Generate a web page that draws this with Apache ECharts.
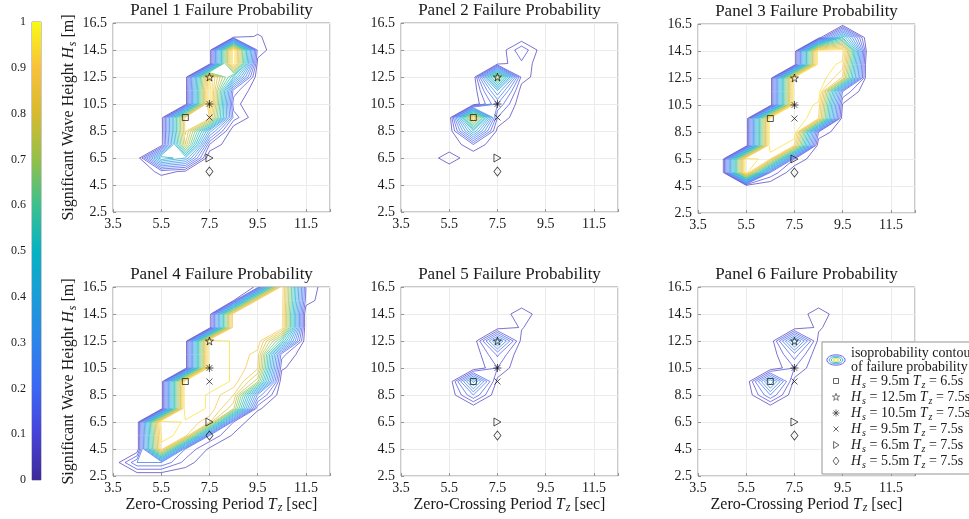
<!DOCTYPE html>
<html>
<head>
<meta charset="utf-8">
<script src="https://cdn.jsdelivr.net/npm/echarts@6/dist/echarts.min.js"></script>
<style>
html, body { margin: 0; padding: 0; background: #fff; }
#chart { width: 969px; height: 519px; }
</style>
</head>
<body>
<div id="chart"></div>
<script>
// grid of the failure probability tables
const tz = [3.5, 4.5, 5.5, 6.5, 7.5, 8.5, 9.5, 10.5, 11.5, 12.5];
const hs = [16.5, 15.5, 14.5, 13.5, 12.5, 11.5, 10.5, 9.5, 8.5, 7.5, 6.5, 5.5, 4.5, 3.5, 2.5];
const levels = [0.05, 0.10, 0.15, 0.20, 0.25, 0.30, 0.35, 0.40, 0.45, 0.50,
                0.55, 0.60, 0.65, 0.70, 0.75, 0.80, 0.85, 0.90, 0.95];
const xTicks = [3.5, 5.5, 7.5, 9.5, 11.5];
const yTicks = [2.5, 4.5, 6.5, 8.5, 10.5, 12.5, 14.5, 16.5];
const cbTicks = [0, 0.1, 0.2, 0.3, 0.4, 0.5, 0.6, 0.7, 0.8, 0.9, 1];

// sea states marked in every panel
const markerTz = [6.5, 7.5, 7.5, 7.5, 7.5, 7.5];
const markerHs = [9.5, 12.5, 10.5, 9.5, 6.5, 5.5];

// rows: Hs 16.5 (top) .. 2.5 (bottom), cols: Tz 3.5 .. 12.5
const p1 = [
  [0, 0, 0, 0, 0, 0, 0, 0, 0, 0],
  [0, 0, 0, 0, 0, 0, 0.06, 0, 0, 0],
  [0, 0, 0, 0, 0, 1, 0.08, 0, 0, 0],
  [0, 0, 0, 0, 0, 1, 0.03, 0, 0, 0],
  [0, 0, 0, 0, 0.95, 0.5, 0, 0, 0, 0],
  [0, 0, 0, 0, 1, 0.13, 0, 0, 0, 0],
  [0, 0, 0, 0, 1, 0.07, 0, 0, 0, 0],
  [0, 0, 0, 0.87, 0.9, 0.13, 0, 0, 0, 0],
  [0, 0, 0, 0.87, 0.33, 0, 0, 0, 0, 0],
  [0, 0, 0, 0.8, 0.1, 0, 0, 0, 0, 0],
  [0, 0, 0.5, 0.4, 0, 0, 0, 0, 0, 0],
  [0, 0, 0.07, 0.04, 0, 0, 0, 0, 0, 0],
  [0, 0, 0, 0, 0, 0, 0, 0, 0, 0],
  [0, 0, 0, 0, 0, 0, 0, 0, 0, 0],
  [0, 0, 0, 0, 0, 0, 0, 0, 0, 0]
];
const p2 = [
  [0, 0, 0, 0, 0, 0, 0, 0, 0, 0],
  [0, 0, 0, 0, 0, 0, 0, 0, 0, 0],
  [0, 0, 0, 0, 0, 0.14, 0, 0, 0, 0],
  [0, 0, 0, 0, 0.02, 0.09, 0, 0, 0, 0],
  [0, 0, 0, 0, 0.75, 0.08, 0, 0, 0, 0],
  [0, 0, 0, 0, 0.35, 0.02, 0, 0, 0, 0],
  [0, 0, 0, 0, 0.2, 0, 0, 0, 0, 0],
  [0, 0, 0, 0.9, 0.1, 0, 0, 0, 0, 0],
  [0, 0, 0, 0.45, 0.03, 0, 0, 0, 0, 0],
  [0, 0, 0, 0.1, 0, 0, 0, 0, 0, 0],
  [0, 0, 0.09, 0, 0, 0, 0, 0, 0, 0],
  [0, 0, 0, 0, 0, 0, 0, 0, 0, 0],
  [0, 0, 0, 0, 0, 0, 0, 0, 0, 0],
  [0, 0, 0, 0, 0, 0, 0, 0, 0, 0],
  [0, 0, 0, 0, 0, 0, 0, 0, 0, 0]
];
const p3 = [
  [0, 0, 0, 0, 0, 0, 0, 0, 0, 0],
  [0, 0, 0, 0, 0, 0, 0.5, 0, 0, 0],
  [0, 0, 0, 0, 0, 1, 1, 0.03, 0, 0],
  [0, 0, 0, 0, 0, 1, 0.93, 0, 0, 0],
  [0, 0, 0, 0, 1, 1, 0.84, 0, 0, 0],
  [0, 0, 0, 0, 1, 1, 0.15, 0, 0, 0],
  [0, 0, 0, 0, 1, 0.935, 0.04, 0, 0, 0],
  [0, 0, 0, 1, 1, 0.9, 0, 0, 0, 0],
  [0, 0, 0, 1, 1, 0.1, 0, 0, 0, 0],
  [0, 0, 0, 1, 0.9, 0, 0, 0, 0, 0],
  [0, 0, 1, 0.9, 0.1, 0, 0, 0, 0, 0],
  [0, 0, 1, 0.15, 0, 0, 0, 0, 0, 0],
  [0, 0, 0, 0, 0, 0, 0, 0, 0, 0],
  [0, 0, 0, 0, 0, 0, 0, 0, 0, 0],
  [0, 0, 0, 0, 0, 0, 0, 0, 0, 0]
];
const p4 = [
  [0, 0, 0, 0, 0, 0, 0.06, 0.945, 0.1, 0],
  [0, 0, 0, 0, 0, 0.045, 0.94, 0.94, 0.08, 0],
  [0, 0, 0, 0, 0, 0.945, 0.94, 0.94, 0, 0],
  [0, 0, 0, 0, 0, 0.945, 0.94, 0.94, 0, 0],
  [0, 0, 0, 0, 1, 0.94, 0.94, 0.565, 0, 0],
  [0, 0, 0, 0, 1, 0.94, 0.88, 0.12, 0, 0],
  [0, 0, 0, 0, 1, 0.94, 0.86, 0.06, 0, 0],
  [0, 0, 0, 1, 1, 0.94, 0.715, 0, 0, 0],
  [0, 0, 0, 1, 0.94, 0.85, 0.24, 0, 0, 0],
  [0, 0, 0, 1, 0.94, 0.76, 0.06, 0, 0, 0],
  [0, 0, 1, 0.94, 0.87, 0.1, 0, 0, 0, 0],
  [0, 0, 0.96, 0.94, 0.15, 0.04, 0, 0, 0, 0],
  [0, 0, 0.94, 0.15, 0.04, 0, 0, 0, 0, 0],
  [0, 0.2, 0.2, 0.08, 0, 0, 0, 0, 0, 0],
  [0, 0, 0, 0, 0, 0, 0, 0, 0, 0]
];
const p5 = [
  [0, 0, 0, 0, 0, 0, 0, 0, 0, 0],
  [0, 0, 0, 0, 0, 0, 0, 0, 0, 0],
  [0, 0, 0, 0, 0, 0.09, 0, 0, 0, 0],
  [0, 0, 0, 0, 0.013, 0.055, 0, 0, 0, 0],
  [0, 0, 0, 0, 0.38, 0.03, 0, 0, 0, 0],
  [0, 0, 0, 0, 0.16, 0, 0, 0, 0, 0],
  [0, 0, 0, 0, 0.1, 0, 0, 0, 0, 0],
  [0, 0, 0, 0.42, 0.03, 0, 0, 0, 0, 0],
  [0, 0, 0, 0.2, 0, 0, 0, 0, 0, 0],
  [0, 0, 0, 0, 0, 0, 0, 0, 0, 0],
  [0, 0, 0, 0, 0, 0, 0, 0, 0, 0],
  [0, 0, 0, 0, 0, 0, 0, 0, 0, 0],
  [0, 0, 0, 0, 0, 0, 0, 0, 0, 0],
  [0, 0, 0, 0, 0, 0, 0, 0, 0, 0],
  [0, 0, 0, 0, 0, 0, 0, 0, 0, 0]
];
const p6 = [
  [0, 0, 0, 0, 0, 0, 0, 0, 0, 0],
  [0, 0, 0, 0, 0, 0, 0, 0, 0, 0],
  [0, 0, 0, 0, 0, 0.09, 0, 0, 0, 0],
  [0, 0, 0, 0, 0.01, 0.06, 0, 0, 0, 0],
  [0, 0, 0, 0, 0.4, 0.03, 0, 0, 0, 0],
  [0, 0, 0, 0, 0.18, 0, 0, 0, 0, 0],
  [0, 0, 0, 0, 0.1, 0, 0, 0, 0, 0],
  [0, 0, 0, 0.4, 0.03, 0, 0, 0, 0, 0],
  [0, 0, 0, 0.2, 0, 0, 0, 0, 0, 0],
  [0, 0, 0, 0, 0, 0, 0, 0, 0, 0],
  [0, 0, 0, 0, 0, 0, 0, 0, 0, 0],
  [0, 0, 0, 0, 0, 0, 0, 0, 0, 0],
  [0, 0, 0, 0, 0, 0, 0, 0, 0, 0],
  [0, 0, 0, 0, 0, 0, 0, 0, 0, 0],
  [0, 0, 0, 0, 0, 0, 0, 0, 0, 0]
];
const panels = [p1, p2, p3, p4, p5, p6];
const titles = ['Panel 1 Failure Probability', 'Panel 2 Failure Probability', 'Panel 3 Failure Probability',
                'Panel 4 Failure Probability', 'Panel 5 Failure Probability', 'Panel 6 Failure Probability'];

const font = "'Liberation Serif', 'DejaVu Serif', serif";
const ink = '#1a1a1a';
const boxColor = '#959595';
const boxes = [[113, 23], [401, 23], [698, 24], [113, 287], [401, 287], [698, 287]];
const boxW = 217, boxH = 189;

// parula-like colormap
const parulaStops = ['#3e2b9a', '#4742d8', '#3b67f5', '#2c84ea', '#1b9cd9', '#06b2c4',
                     '#3cc08e', '#94c048', '#d7ba2f', '#f9c13a', '#f9fa14'];
function hexRgb(h) { return [1, 3, 5].map(i => parseInt(h.substr(i, 2), 16)); }
function parula(t) {
  const s = Math.max(0, Math.min(1, t)) * 10;
  const i = Math.min(9, Math.floor(s));
  const f = s - i;
  const a = hexRgb(parulaStops[i]), b = hexRgb(parulaStops[i + 1]);
  return 'rgb(' + a.map((v, k) => Math.round(v + (b[k] - v) * f)).join(',') + ')';
}

// marching squares on the Tz/Hs table
function segments(g, L) {
  const out = [];
  for (let r = 0; r < hs.length - 1; r++) {
    for (let c = 0; c < tz.length - 1; c++) {
      const tl = g[r][c], tr = g[r][c + 1], bl = g[r + 1][c], br = g[r + 1][c + 1];
      const x0 = tz[c], x1 = tz[c + 1], yT = hs[r], yB = hs[r + 1];
      let idx = 0;
      if (bl >= L) idx |= 1;
      if (br >= L) idx |= 2;
      if (tr >= L) idx |= 4;
      if (tl >= L) idx |= 8;
      if (idx === 0 || idx === 15) continue;
      const B = () => [x0 + (L - bl) / (br - bl) * (x1 - x0), yB];
      const R = () => [x1, yB + (L - br) / (tr - br) * (yT - yB)];
      const T = () => [x0 + (L - tl) / (tr - tl) * (x1 - x0), yT];
      const Le = () => [x0, yB + (L - bl) / (tl - bl) * (yT - yB)];
      const up = (tl + tr + bl + br) / 4 >= L;
      switch (idx) {
        case 1: case 14: out.push([Le(), B()]); break;
        case 2: case 13: out.push([B(), R()]); break;
        case 3: case 12: out.push([Le(), R()]); break;
        case 4: case 11: out.push([R(), T()]); break;
        case 6: case 9: out.push([B(), T()]); break;
        case 7: case 8: out.push([Le(), T()]); break;
        case 5:
          if (up) { out.push([B(), R()]); out.push([Le(), T()]); }
          else { out.push([Le(), B()]); out.push([R(), T()]); }
          break;
        case 10:
          if (up) { out.push([Le(), B()]); out.push([R(), T()]); }
          else { out.push([B(), R()]); out.push([Le(), T()]); }
          break;
      }
    }
  }
  return out;
}

function chain(segs) {
  const key = p => p[0].toFixed(6) + ',' + p[1].toFixed(6);
  const map = new Map();
  segs.forEach((s, i) => s.forEach(p => {
    const k = key(p);
    if (!map.has(k)) map.set(k, []);
    map.get(k).push(i);
  }));
  const used = segs.map(() => false);
  const lines = [];
  for (let i = 0; i < segs.length; i++) {
    if (used[i]) continue;
    used[i] = true;
    const line = [segs[i][0], segs[i][1]];
    [true, false].forEach(atEnd => {
      for (;;) {
        const p = atEnd ? line[line.length - 1] : line[0];
        const j = map.get(key(p)).find(n => !used[n]);
        if (j === undefined) break;
        used[j] = true;
        const q = key(segs[j][0]) === key(p) ? segs[j][1] : segs[j][0];
        if (atEnd) line.push(q); else line.unshift(q);
      }
    });
    lines.push(line);
  }
  return lines;
}

const rich = (size, lh) => ({
  n: { fontFamily: font, fontSize: size, color: ink, lineHeight: lh },
  i: { fontFamily: font, fontSize: size, color: ink, fontStyle: 'italic', lineHeight: lh },
  s: { fontFamily: font, fontSize: size - 4, color: ink, fontStyle: 'italic', lineHeight: lh - 7, padding: [6, 0, 0, 1], verticalAlign: 'top' }
});

const markerSymbols = [
  'rect',
  'path://M50,0 L61,35 98,35 68,57 79,91 50,70 21,91 32,57 2,35 39,35 Z',
  'path://M50,0 L50,100 M0,50 L100,50 M15,15 L85,85 M85,15 L15,85',
  'path://M0,0 L100,100 M100,0 L0,100',
  'path://M0,0 L100,50 L0,100 Z',
  'diamond'
];
const markerSizes = [[6, 6], [8, 8], [8, 8], [6, 6], [7, 8], [7, 9]];

const svgs = [
  "<ellipse cx='10' cy='6' rx='9.2' ry='5.2' fill='none' stroke='#5a52e0' stroke-width='0.9'/><ellipse cx='10' cy='6' rx='6.8' ry='3.8' fill='none' stroke='#3aa0e8' stroke-width='0.9'/><ellipse cx='10' cy='6' rx='4.6' ry='2.5' fill='none' stroke='#33c0b0' stroke-width='0.9'/><ellipse cx='10' cy='6' rx='2.6' ry='1.3' fill='none' stroke='#f0e020' stroke-width='1'/>",
  "<rect x='7.6' y='3.6' width='4.8' height='4.8' fill='none' stroke='#111' stroke-width='0.8'/>",
  "<path d='M10,2.3 L10.9,5 13.6,5 11.4,6.7 12.3,9.4 10,7.7 7.7,9.4 8.6,6.7 6.4,5 9.1,5 Z' fill='none' stroke='#111' stroke-width='0.7'/>",
  "<path d='M10,2.5 L10,9.5 M6.5,6 L13.5,6 M7.5,3.5 L12.5,8.5 M12.5,3.5 L7.5,8.5' fill='none' stroke='#111' stroke-width='0.8'/>",
  "<path d='M7.5,3.5 L12.5,8.5 M12.5,3.5 L7.5,8.5' fill='none' stroke='#111' stroke-width='0.8'/>",
  "<path d='M7.6,2.5 L13,6 L7.6,9.5 Z' fill='none' stroke='#111' stroke-width='0.8'/>",
  "<path d='M10,2 L13,6 L10,10 L7,6 Z' fill='none' stroke='#111' stroke-width='0.8'/>"
];
const svgIcon = body => 'image://data:image/svg+xml;charset=utf-8,' + encodeURIComponent(
  "<svg xmlns='http://www.w3.org/2000/svg' width='20' height='12' viewBox='0 0 20 12'>" + body + '</svg>');

const legendNames = ['iso', 'm0', 'm1', 'm2', 'm3', 'm4', 'm5'];
const legendLabels = [
  'isoprobability contour\nof failure probability',
  '{i|H}{s|s}{n| = 9.5m }{i|T}{s|z}{n| = 6.5s}',
  '{i|H}{s|s}{n| = 12.5m }{i|T}{s|z}{n| = 7.5s}',
  '{i|H}{s|s}{n| = 10.5m }{i|T}{s|z}{n| = 7.5s}',
  '{i|H}{s|s}{n| = 9.5m }{i|T}{s|z}{n| = 7.5s}',
  '{i|H}{s|s}{n| = 6.5m }{i|T}{s|z}{n| = 7.5s}',
  '{i|H}{s|s}{n| = 5.5m }{i|T}{s|z}{n| = 7.5s}'
];

const grid = boxes.map(b => ({
  left: b[0], top: b[1], width: boxW, height: boxH,
  show: true, borderColor: boxColor, borderWidth: 1, backgroundColor: '#fff'
}));
grid.push({ left: 32, top: 22, width: 9, height: 458, show: true, borderColor: boxColor, borderWidth: 1 });

const xAxis = boxes.map((b, k) => ({
  gridIndex: k, type: 'value', min: 3.5, max: 12.5, interval: 2,
  axisLine: { show: false },
  axisTick: { inside: true, length: 3, lineStyle: { color: boxColor } },
  axisLabel: { margin: 5, color: ink, fontFamily: font, fontSize: 14,
    formatter: v => xTicks.indexOf(v) >= 0 ? v.toFixed(1) : '' },
  splitLine: { show: true, lineStyle: { color: '#ebebeb', width: 1 } },
  name: k >= 3 ? '{n|Zero-Crossing Period }{i|T}{s|z}{n| [sec]}' : '',
  nameLocation: 'middle', nameGap: 16,
  nameTextStyle: { rich: rich(16, 17) }
}));
xAxis.push({ gridIndex: 6, type: 'category', data: ['bar'], show: false });

const yAxis = boxes.map((b, k) => ({
  gridIndex: k, type: 'value', min: 2.5, max: 16.5, interval: 2,
  axisLine: { show: false },
  axisTick: { inside: true, length: 3, lineStyle: { color: boxColor } },
  axisLabel: { margin: 6, color: ink, fontFamily: font, fontSize: 14,
    formatter: v => yTicks.indexOf(v) >= 0 ? v.toFixed(1) : '' },
  splitLine: { show: true, lineStyle: { color: '#ebebeb', width: 1 } },
  name: (k === 0 || k === 3) ? '{n|Significant Wave Height }{i|H}{s|s}{n| [m]}' : '',
  nameLocation: 'middle', nameGap: 29, nameRotate: 90,
  nameTextStyle: { rich: rich(16, 17) }
}));
yAxis.push({
  gridIndex: 6, type: 'value', min: 0, max: 1, interval: 0.1,
  axisLine: { show: false },
  axisTick: { inside: true, length: 2, lineStyle: { color: boxColor } },
  axisLabel: { margin: 6, color: ink, fontFamily: font, fontSize: 12,
    formatter: v => cbTicks.indexOf(Math.round(v * 10) / 10) >= 0 ? (v === 0 || v === 1 ? String(v) : v.toFixed(1)) : '' },
  splitLine: { show: false }
});

const series = [];
panels.forEach((g, k) => {
  const data = [];
  levels.forEach(L => {
    chain(segments(g, L)).forEach(line => {
      data.push({ coords: line, lineStyle: { color: parula(L) } });
    });
  });
  series.push({
    type: 'lines', name: 'iso', coordinateSystem: 'cartesian2d',
    xAxisIndex: k, yAxisIndex: k, polyline: true, silent: true,
    lineStyle: { width: 0.7, opacity: 1 }, data, z: 3
  });
  markerTz.forEach((t, m) => {
    series.push({
      type: 'scatter', name: 'm' + m, xAxisIndex: k, yAxisIndex: k,
      data: [[t, markerHs[m]]], symbol: markerSymbols[m], symbolSize: markerSizes[m],
      itemStyle: { color: 'rgba(0,0,0,0)', borderColor: '#111', borderWidth: 0.9 },
      silent: true, z: 5
    });
  });
});

const cbStops = cbTicks.map(t => ({ offset: t, color: parula(t) }));
series.push({
  type: 'bar', xAxisIndex: 6, yAxisIndex: 6, data: [1], barWidth: '100%', silent: true,
  itemStyle: { color: new echarts.graphic.LinearGradient(0, 1, 0, 0, cbStops) }
});

const title = boxes.map((b, k) => ({
  text: titles[k], left: b[0] + boxW / 2, top: b[1] - 21, textAlign: 'center', padding: 0,
  textStyle: { fontFamily: font, fontSize: 17, fontWeight: 'normal', color: ink }
}));

const chart = echarts.init(document.getElementById('chart'));
chart.setOption({
  backgroundColor: '#fff',
  animation: false,
  title,
  grid,
  xAxis,
  yAxis,
  legend: {
    orient: 'vertical', left: 822, top: 342, padding: [4, 8, 4, 4],
    itemGap: 0, itemWidth: 20, itemHeight: 12,
    backgroundColor: '#fff', borderColor: boxColor, borderWidth: 1,
    selectedMode: false,
    data: legendNames.map((n, i) => ({ name: n, icon: svgIcon(svgs[i]) })),
    formatter: n => legendLabels[legendNames.indexOf(n)],
    textStyle: { fontFamily: font, fontSize: 14, color: ink, lineHeight: 14, rich: rich(14, 14) }
  },
  series
});
</script>
</body>
</html>
